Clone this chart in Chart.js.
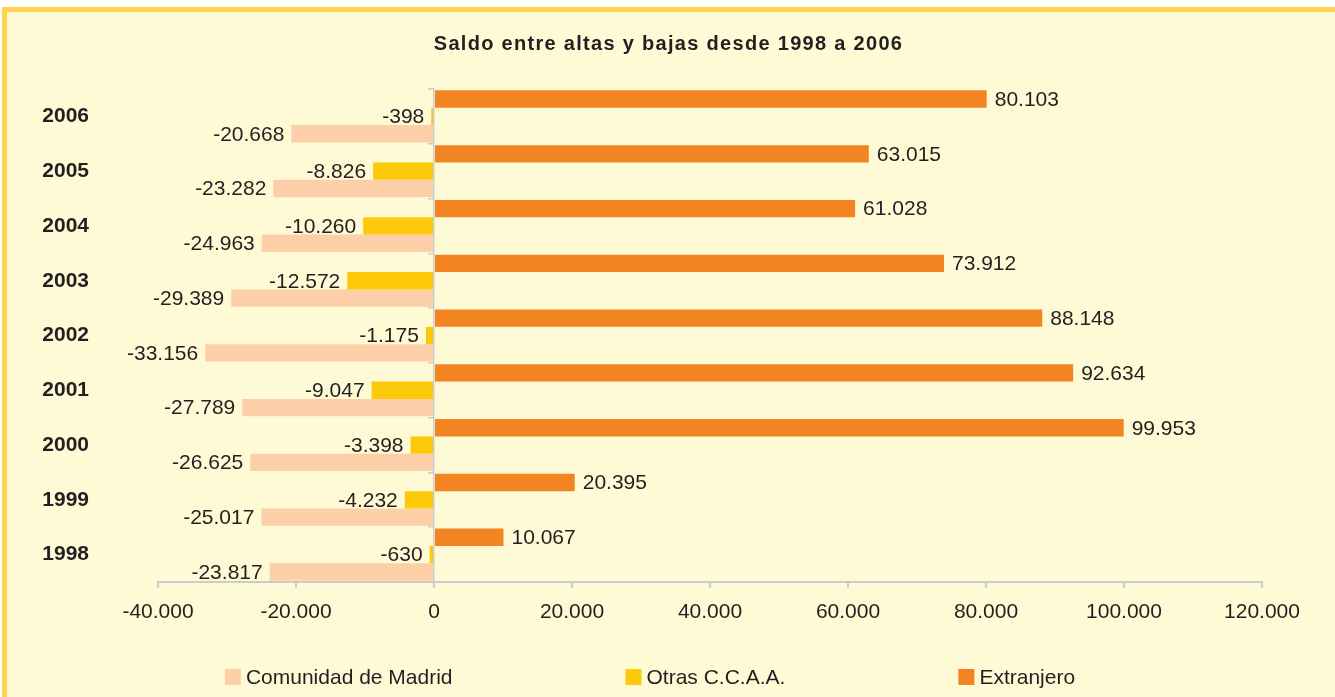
<!DOCTYPE html>
<html>
<head>
<meta charset="utf-8">
<script src="https://cdn.jsdelivr.net/npm/chart.js@4.4.0/dist/chart.umd.min.js"></script>
<style>
  html, body { margin: 0; padding: 0; background: #fff; }
  #wrap { width: 1335px; height: 697px; }
</style>
</head>
<body>
<div id="wrap"><canvas id="saldo" width="1335" height="697"></canvas></div>
<script>
// datos (2006 arriba, 1998 abajo)
const years = ['2006', '2005', '2004', '2003', '2002', '2001', '2000', '1999', '1998'];
const extranjero = [80103, 63015, 61028, 73912, 88148, 92634, 99953, 20395, 10067];
const otrasCCAA = [-398, -8826, -10260, -12572, -1175, -9047, -3398, -4232, -630];
const madrid = [-20668, -23282, -24963, -29389, -33156, -27789, -26625, -25017, -23817];
const xRange = [-40000, 120000];
const xStep = 20000;

const FONT = '"Liberation Sans", Arial, sans-serif';
const INK = '#231f20';
const AXIS = '#c9ccd1';

function fmt(v) {
  const s = Math.abs(v).toString().replace(/\B(?=(\d{3})+(?!\d))/g, '.');
  return (v < 0 ? '-' : '') + s;
}

// fondo y marco amarillo
const fondo = {
  id: 'fondo',
  beforeDraw(chart) {
    const ctx = chart.ctx;
    ctx.save();
    ctx.fillStyle = '#ffffff';
    ctx.fillRect(0, 0, chart.width, chart.height);
    ctx.fillStyle = '#ffd34f';
    ctx.fillRect(2, 7, chart.width, chart.height);
    ctx.fillStyle = '#fffad6';
    ctx.fillRect(7, 12, chart.width, chart.height);
    ctx.restore();
  }
};

// valores al final de cada barra
const etiquetas = {
  id: 'etiquetas',
  afterDatasetsDraw(chart) {
    const ctx = chart.ctx;
    ctx.save();
    ctx.font = '21px ' + FONT;
    ctx.fillStyle = INK;
    ctx.textBaseline = 'middle';
    chart.data.datasets.forEach((ds, i) => {
      chart.getDatasetMeta(i).data.forEach((bar, j) => {
        const v = ds.data[j];
        if (v >= 0) {
          ctx.textAlign = 'left';
          ctx.fillText(fmt(v), bar.x + 8, bar.y + 1);
        } else {
          ctx.textAlign = 'right';
          ctx.fillText(fmt(v), bar.x - 7, bar.y + 1);
        }
      });
    });
    ctx.restore();
  }
};

// titulo y leyenda
const textos = {
  id: 'textos',
  afterDraw(chart) {
    const ctx = chart.ctx;
    ctx.save();
    ctx.fillStyle = INK;
    ctx.font = 'bold 20px ' + FONT;
    ctx.textAlign = 'center';
    ctx.textBaseline = 'middle';
    if ('letterSpacing' in ctx) ctx.letterSpacing = '1.3px';
    ctx.fillText('Saldo entre altas y bajas desde 1998 a 2006', chart.width / 2 + 1, 44);
    if ('letterSpacing' in ctx) ctx.letterSpacing = '0px';

    // leyenda en orden inverso de los datasets
    ctx.font = '21px ' + FONT;
    ctx.textAlign = 'left';
    const items = chart.data.datasets.slice().reverse();
    const box = 16, gap = 5, spacing = 173;
    const widths = items.map(d => box + gap + ctx.measureText(d.label).width);
    const total = widths.reduce((a, b) => a + b, 0) + spacing * (items.length - 1);
    let x = 650 - total / 2;
    const y = 677;
    items.forEach((d, i) => {
      ctx.fillStyle = d.backgroundColor;
      ctx.fillRect(x, y - box / 2, box, box);
      ctx.fillStyle = INK;
      ctx.fillText(d.label, x + box + gap, y + 1);
      x += widths[i] + spacing;
    });
    ctx.restore();
  }
};

new Chart(document.getElementById('saldo'), {
  type: 'bar',
  data: {
    labels: years,
    datasets: [
      { label: 'Extranjero', data: extranjero, backgroundColor: '#f28421' },
      { label: 'Otras C.C.A.A.', data: otrasCCAA, backgroundColor: '#fcca0a' },
      { label: 'Comunidad de Madrid', data: madrid, backgroundColor: '#fdcfa8' }
    ]
  },
  options: {
    indexAxis: 'y',
    responsive: false,
    animation: false,
    categoryPercentage: 0.95,
    barPercentage: 1.0,
    layout: { padding: { top: 89, left: 40, right: 73, bottom: 0 } },
    plugins: {
      legend: { display: false },
      title: { display: false },
      tooltip: { enabled: false }
    },
    scales: {
      x: {
        min: xRange[0],
        max: xRange[1],
        afterFit: (s) => { s.height = 115; },
        ticks: {
          stepSize: xStep,
          padding: 12,
          color: INK,
          font: { family: FONT, size: 21 },
          callback: (v) => fmt(v)
        },
        grid: { drawOnChartArea: false, tickLength: 6, color: AXIS, lineWidth: 2 },
        border: { color: AXIS, width: 2 }
      },
      y: {
        afterFit: (s) => { s.width = 118; },
        ticks: {
          padding: 69,
          color: INK,
          font: { family: FONT, size: 21, weight: 'bold' }
        },
        grid: { display: false, drawTicks: false },
        border: { display: false }
      },
      y2: {
        type: 'category',
        position: { x: 0 },
        offset: true,
        ticks: { display: false },
        grid: { offset: true, drawOnChartArea: false, tickLength: 5, color: AXIS, lineWidth: 1.5 },
        border: { color: AXIS, width: 1.5 }
      }
    }
  },
  plugins: [fondo, etiquetas, textos]
});
</script>
</body>
</html>
